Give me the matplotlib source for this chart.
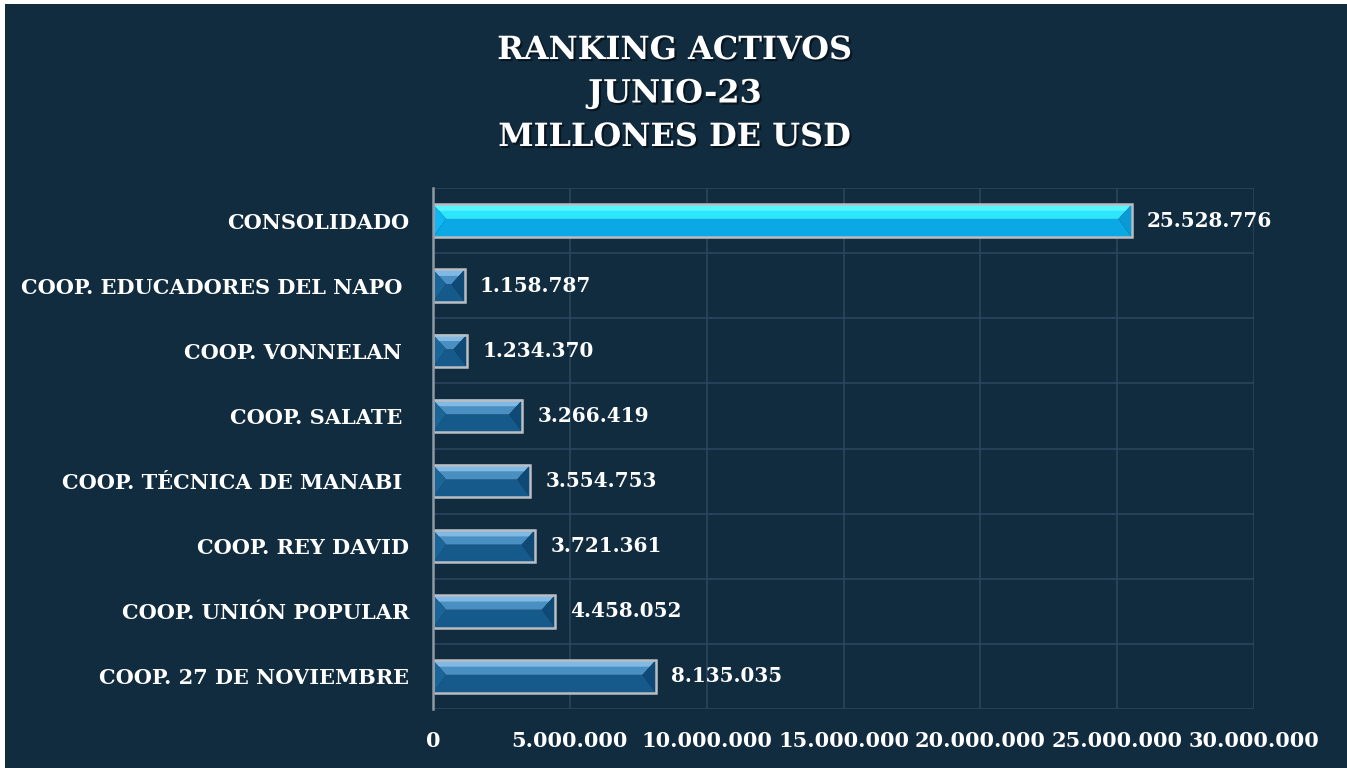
import numpy as np
import matplotlib
matplotlib.use("Agg")
import matplotlib.pyplot as plt
from matplotlib.patches import Polygon, Rectangle
import matplotlib.patheffects as pe

categories = ['CONSOLIDADO', 'COOP. EDUCADORES DEL NAPO ', 'COOP. VONNELAN ',
              'COOP. SALATE ', 'COOP. TÉCNICA DE MANABI ', 'COOP. REY DAVID',
              'COOP. UNIÓN POPULAR', 'COOP. 27 DE NOVIEMBRE']
values = [25528776, 1158787, 1234370, 3266419, 3554753, 3721361, 4458052, 8135035]
title = 'RANKING ACTIVOS\nJUNIO-23\nMILLONES DE USD'

BG = '#112b3f'
FONT = 'DejaVu Serif'


def fmt(v):
    return f'{v:,.0f}'.replace(',', '.')


def bevel_bar(ax, y, v, h, cols):
    # four bevel facets meeting on a line a bit above the middle
    top_c, hi_c, bot_c, left_c, right_c = cols
    bx = min(4.8e5, v / 2.2)
    t, b = y - h / 2, y + h / 2
    m = t + 0.45 * h
    q = t + 0.2 * h
    ax.add_patch(Polygon([(0, b), (v, b), (v - bx, m), (bx, m)], closed=True,
                         fc=bot_c, ec='none', zorder=3))
    ax.add_patch(Polygon([(0, t), (v, t), (v - bx, m), (bx, m)], closed=True,
                         fc=hi_c, ec='none', zorder=3))
    # lighter upper strip of the top facet
    f = (q - t) / (m - t)
    ax.add_patch(Polygon([(0, t), (v, t), (v - bx * f, q), (bx * f, q)], closed=True,
                         fc=top_c, ec='none', zorder=3))
    ax.add_patch(Polygon([(0, t), (bx, m), (0, b)], closed=True,
                         fc=left_c, ec='none', zorder=3))
    ax.add_patch(Polygon([(v, t), (v - bx, m), (v, b)], closed=True,
                         fc=right_c, ec='none', zorder=3))
    ax.add_patch(Rectangle((0, t), v, h, fc='none', ec='#b9bec4', lw=1.8, zorder=4))


fig = plt.figure(figsize=(13.47, 7.68), dpi=100, facecolor='white')
fig.patches.append(Rectangle((5 / 1347, 0), 1, 1 - 4 / 768, transform=fig.transFigure,
                             fc=BG, ec='none', zorder=-10))
ax = fig.add_axes([433 / 1347, 1 - 709 / 768, (1254 - 433) / 1347, (709 - 188) / 768])
ax.set_facecolor(BG)

ypos = np.arange(len(categories))
h = 0.5
cyan = ('#55f6ff', '#2ee6fb', '#0aa8e4', '#0fb8f2', '#0a9bd6')
blue = ('#80b9e3', '#4a8fc2', '#155a8a', '#1b6699', '#0f4a77')
for i, (y, v) in enumerate(zip(ypos, values)):
    bevel_bar(ax, y, v, h, cyan if i == 0 else blue)
    ax.text(v + 5.6e5, y, fmt(v), va='center', ha='left', color='white',
            fontsize=14.4, fontweight='bold', family=FONT)

ax.set_xlim(0, 30000000)
ax.set_ylim(len(categories) - 0.5, -0.5)
ax.set_xticks(np.arange(0, 30000001, 5000000))
ax.set_xticklabels([fmt(t) for t in np.arange(0, 30000001, 5000000)])
ax.set_yticks(ypos)
ax.set_yticklabels(categories)
ax.set_yticks(np.arange(-0.5, len(categories), 1), minor=True)
ax.grid(True, axis='x', color='#2b465c', lw=1.2, zorder=0)
ax.grid(True, axis='y', which='minor', color='#2b465c', lw=1.2, zorder=0)
ax.tick_params(axis='both', which='both', length=0)
ax.tick_params(axis='y', pad=17)
ax.tick_params(axis='x', pad=16)
for lab in ax.get_xticklabels() + ax.get_yticklabels():
    lab.set_color('white')
    lab.set_fontsize(15)
    lab.set_fontweight('bold')
    lab.set_family(FONT)
for s in ['top', 'right', 'bottom']:
    ax.spines[s].set_visible(False)
ax.spines['left'].set_color('#8d99a4')
ax.spines['left'].set_linewidth(1.8)
ax.spines['left'].set_zorder(5)

fig.text(675 / 1347, 1 - 94 / 768, title, ha='center', va='center', color='white',
         fontsize=23, fontweight='bold', family=FONT, linespacing=1.52,
         path_effects=[pe.withSimplePatchShadow(offset=(1.5, -1.5), shadow_rgbFace='black', alpha=0.5)])

fig.savefig('out.png', dpi=100, facecolor=fig.get_facecolor())
